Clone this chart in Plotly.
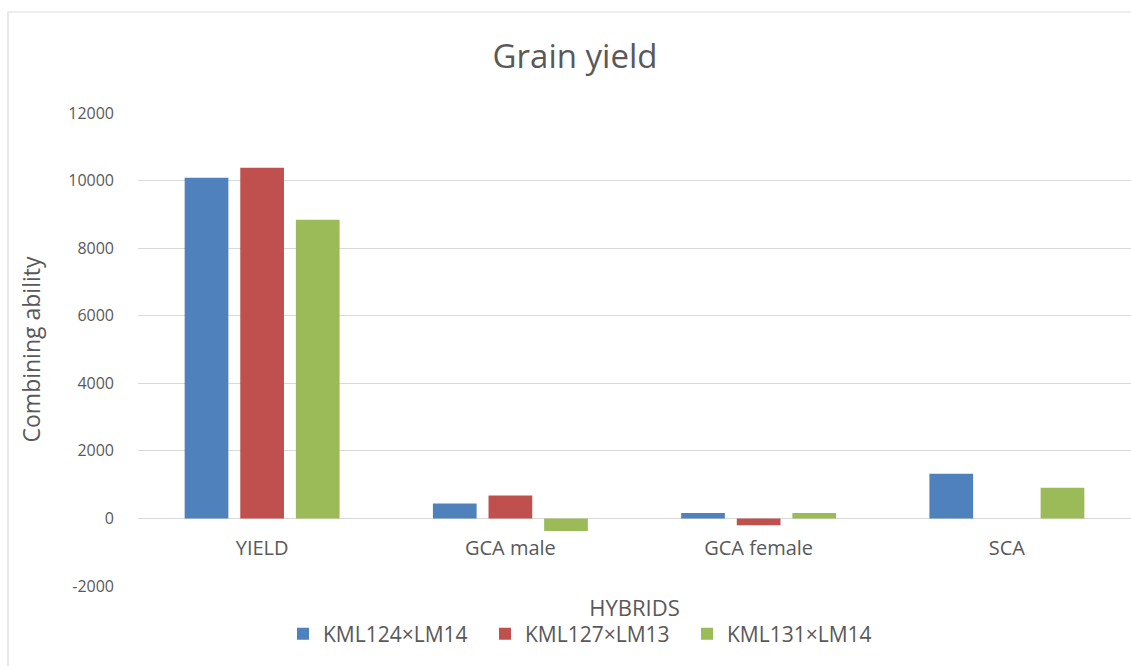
import plotly.graph_objects as go

categories = ["YIELD", "GCA male", "GCA female", "SCA"]
series_names = ["KML124×LM14", "KML127×LM13", "KML131×LM14"]
kml124_lm14 = [10080, 445, 160, 1320]
kml127_lm13 = [10380, 675, -205, 0]
kml131_lm14 = [8840, -370, 160, 910]
colors = ["#4F81BD", "#C0504D", "#9BBB59"]
y_ticks = [-2000, 0, 2000, 4000, 6000, 8000, 10000, 12000]
y_tick_labels = ["-2000", "0", "2000", "4000", "6000", "8000", "10000", "12000"]

FONT = "Open Sans"
TXT = "#595959"

fig = go.Figure()
for name, vals, col in zip(series_names, [kml124_lm14, kml127_lm13, kml131_lm14], colors):
    fig.add_trace(go.Bar(x=categories, y=vals, name=name,
                         marker=dict(color=col, line=dict(width=0))))

W, H = 1131, 666
L, R, T, B = 138, 0, 113, 80
ph = H - T - B
pw = W - L - R

def px_to_paper_x(px):
    return (px - L) / pw

def px_to_paper_y(py):
    return (H - B - py) / ph

fig.update_layout(
    width=W, height=H,
    margin=dict(l=L, r=R, t=T, b=B),
    paper_bgcolor="white", plot_bgcolor="white",
    font=dict(family=FONT, color=TXT, size=18),
    title=dict(text="Grain yield", x=575 / W, xref="container", xanchor="center",
               y=1 - 56 / H, yref="container", yanchor="middle",
               font=dict(size=33, color=TXT, family=FONT)),
    barmode="group", bargap=0.328, bargroupgap=0.214,
    legend=dict(orientation="h", x=px_to_paper_x(586), xanchor="center",
                y=px_to_paper_y(634), yanchor="middle",
                font=dict(size=21, color=TXT), itemwidth=30, entrywidth=157,
                bgcolor="rgba(0,0,0,0)"),
    xaxis=dict(anchor="free", position=px_to_paper_y(518), showgrid=False,
               showline=False, ticks="", ticklabelstandoff=16,
               tickfont=dict(size=20, color=TXT),
               title=dict(text="HYBRIDS", standoff=40, font=dict(size=22, color=TXT))),
    yaxis=dict(range=[-2000, 12000], tickvals=y_ticks, ticktext=y_tick_labels,
               showgrid=True, gridcolor="#d9d9d9", gridwidth=1, zeroline=True,
               zerolinecolor="#d9d9d9", zerolinewidth=1, showline=False,
               ticks="", ticklabelstandoff=23, tickfont=dict(size=16, color=TXT),
               title=dict(text="Combining ability", standoff=21,
                          font=dict(size=23, color=TXT))),
    shapes=[dict(type="rect", xref="paper", yref="paper",
                 x0=px_to_paper_x(8), x1=px_to_paper_x(W + 20),
                 y0=px_to_paper_y(H + 20), y1=px_to_paper_y(12),
                 line=dict(color="#d9d9d9", width=1.2), fillcolor="rgba(0,0,0,0)",
                 layer="below")],
)

fig.write_html("out.html", config={"displayModeBar": False},
               post_script="document.body.style.margin='0';document.body.style.overflow='hidden';")
